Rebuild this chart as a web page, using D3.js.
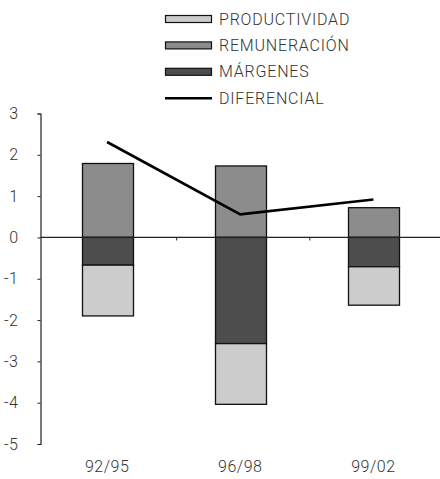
<!DOCTYPE html>
<html>
<head>
<meta charset="utf-8">
<script src="https://cdn.jsdelivr.net/npm/d3@7"></script>
<style>
  body { margin: 0; background: #fff; }
  svg text { font-family: Roboto, "Liberation Sans", Arial, sans-serif; font-weight: 300; fill: #333; }
</style>
</head>
<body>
<div id="chart"></div>
<script>
// periods on the x axis
const periods = ['92/95', '96/98', '99/02'];

// stacked components
const productividad = [-1.23, -1.47, -0.93];
const remuneracion = [1.79, 1.73, 0.72];
const margenes = [-0.67, -2.57, -0.71];

// line
const diferencial = [2.31, 0.56, 0.92];

const yTicks = [3, 2, 1, 0, -1, -2, -3, -4, -5];

const legendItems = [
    {label: 'PRODUCTIVIDAD', fill: '#cccccc', type: 'box'},
    {label: 'REMUNERACIÓN', fill: '#8c8c8c', type: 'box'},
    {label: 'MÁRGENES', fill: '#4d4d4d', type: 'box'},
    {label: 'DIFERENCIAL', type: 'line'}
];

const width = 440, height = 479;
const plotLeft = 40.5, plotRight = 440, plotTop = 113.5, plotBottom = 444;

const svg = d3.select('#chart').append('svg')
    .attr('width', width)
    .attr('height', height);

const xScale = d3.scaleBand()
    .domain(periods)
    .range([plotLeft, plotRight])
    .paddingInner(0.62)
    .paddingOuter(0.31);

const yScale = d3.scaleLinear()
    .domain([-5, 3])
    .range([plotBottom, plotTop]);

// stacked segments: positives upward from 0, negatives downward (margenes first, then productividad)
const segments = [];
periods.forEach((p, i) => {
    segments.push({period: p, y0: 0, y1: remuneracion[i], fill: '#8c8c8c'});
    segments.push({period: p, y0: 0, y1: margenes[i], fill: '#4d4d4d'});
    segments.push({period: p, y0: margenes[i], y1: margenes[i] + productividad[i], fill: '#cccccc'});
});

svg.append('g').selectAll('rect')
    .data(segments)
    .enter().append('rect')
    .attr('x', d => Math.round(xScale(d.period)) + 0.5)
    .attr('width', Math.round(xScale.bandwidth()))
    .attr('y', d => yScale(Math.max(d.y0, d.y1)))
    .attr('height', d => Math.abs(yScale(d.y0) - yScale(d.y1)))
    .attr('fill', d => d.fill)
    .attr('stroke', '#111')
    .attr('stroke-width', 1.3);

// y axis
const yAxis = d3.axisLeft(yScale)
    .tickValues(yTicks)
    .tickSize(3)
    .tickPadding(19)
    .tickFormat(d => String(d));

const yG = svg.append('g')
    .attr('transform', 'translate(' + plotLeft + ',0)')
    .call(yAxis);
yG.select('.domain').attr('stroke', '#222').attr('stroke-width', 1.2);
yG.selectAll('.tick line').attr('stroke', '#222');
yG.selectAll('text')
    .style('font-size', '16px')
    .style('letter-spacing', '0.5px')
    .attr('fill', '#333');

// x axis at zero, with ticks between categories
const zeroY = yScale(0);
svg.append('line')
    .attr('x1', plotLeft).attr('x2', plotRight)
    .attr('y1', zeroY).attr('y2', zeroY)
    .attr('stroke', '#222')
    .attr('stroke-width', 1.2);

const step = xScale.step();
svg.append('g').selectAll('line')
    .data(periods.slice(1))
    .enter().append('line')
    .attr('x1', d => xScale(d) - xScale.paddingInner() * step / 2 + 3)
    .attr('x2', d => xScale(d) - xScale.paddingInner() * step / 2 + 3)
    .attr('y1', zeroY)
    .attr('y2', zeroY + 3)
    .attr('stroke', '#222');

// category labels at the bottom
svg.append('g').selectAll('text')
    .data(periods)
    .enter().append('text')
    .attr('x', d => xScale(d) + xScale.bandwidth() / 2)
    .attr('y', 472)
    .attr('text-anchor', 'middle')
    .style('font-size', '16px')
    .style('letter-spacing', '0.5px')
    .text(d => d);

// diferencial line
const line = d3.line()
    .x((d, i) => xScale(periods[i]) + xScale.bandwidth() / 2)
    .y(d => yScale(d));

svg.append('path')
    .datum(diferencial)
    .attr('d', line)
    .attr('fill', 'none')
    .attr('stroke', '#000')
    .attr('stroke-width', 2.6);

// legend
const legend = svg.append('g')
    .selectAll('g')
    .data(legendItems)
    .enter().append('g')
    .attr('transform', (d, i) => 'translate(165,' + (19 + i * 26.4) + ')');

legend.filter(d => d.type === 'box')
    .append('rect')
    .attr('x', 0.5).attr('y', -3.5)
    .attr('width', 46).attr('height', 7)
    .attr('fill', d => d.fill)
    .attr('stroke', '#111')
    .attr('stroke-width', 1.2);

legend.filter(d => d.type === 'line')
    .append('line')
    .attr('x1', 0).attr('x2', 47)
    .attr('y1', 0).attr('y2', 0)
    .attr('stroke', '#000')
    .attr('stroke-width', 2.6);

legend.append('text')
    .attr('x', 54)
    .attr('y', 5.5)
    .style('font-size', '16px')
    .style('letter-spacing', '0.8px')
    .text(d => d.label);
</script>
</body>
</html>
